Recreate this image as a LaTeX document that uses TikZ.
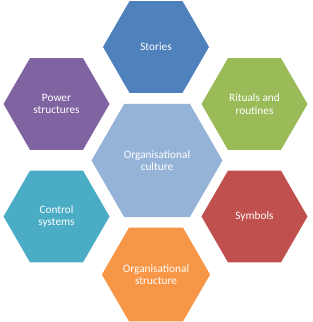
\documentclass[tikz,border=0pt]{standalone}
\usepackage{fontspec}
\setmainfont{Carlito}
\usepackage{tikz}
\usetikzlibrary{shapes.geometric}
\definecolor{storyblue}{HTML}{4F81BD}
\definecolor{powerplum}{HTML}{8064A2}
\definecolor{ritualgreen}{HTML}{9BBB59}
\definecolor{coreblue}{HTML}{95B3D7}
\definecolor{controlteal}{HTML}{4BACC6}
\definecolor{symbolred}{HTML}{C0504D}
\definecolor{structorange}{HTML}{F79646}
\tikzset{
  hexa/.style={regular polygon, regular polygon sides=6, minimum size=106pt, inner sep=0pt,
               draw=none, text=white, align=center, font=\fontsize{11.3}{12.6}\selectfont},
  corehexa/.style={hexa, minimum size=131pt},
}
\begin{document}
\begin{tikzpicture}[x=1pt,y=-1pt]
\useasboundingbox (0,0) rectangle (313,322);
% centre
\node[corehexa, fill=coreblue] (culture) at (157,160.5) {Organisational\\culture};
% ring
\node[hexa, fill=storyblue] (stories) at (156,47) {Stories};
\node[hexa, fill=powerplum] (power) at (56.5,104) {Power\\structures};
\node[hexa, fill=ritualgreen] (rituals) at (254.5,104) {Rituals and\\routines};
\node[hexa, fill=controlteal] (control) at (56.5,216.5) {Control\\systems};
\node[hexa, fill=symbolred] (symbols) at (254.5,216.5) {Symbols};
\node[hexa, fill=structorange] (structure) at (156,274.5) {Organisational\\structure};
\end{tikzpicture}
\end{document}
